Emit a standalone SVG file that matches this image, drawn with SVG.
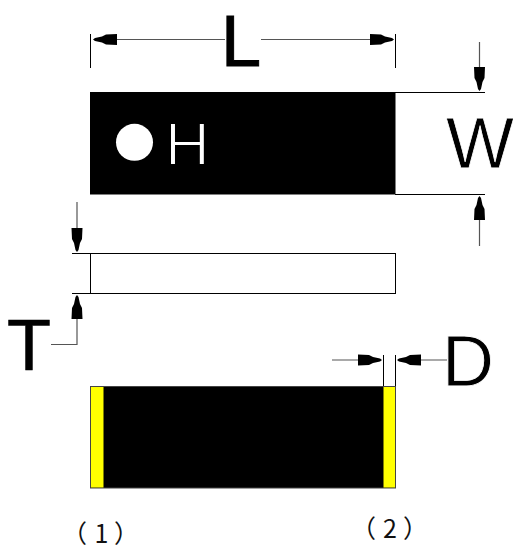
<svg xmlns="http://www.w3.org/2000/svg" width="513" height="546" viewBox="0 0 513 546">
<style>
.l{fill:none;stroke:#000;stroke-width:1}
.g{fill:none;stroke:#555;stroke-width:1.2}
.a{fill:#000}
.t{font-family:"Liberation Sans",Arial,sans-serif;font-size:72px;fill:#000}
.thin{stroke:#fff;stroke-width:.8}
.n{font-family:"Noto Sans CJK SC","Liberation Sans",sans-serif;font-size:25px;fill:#111}
</style>
<defs>
<polygon id="ah" class="a" points="0,0 2,-1.500 9,-3 13,-5 24,-5.500 24,5.500 13,5 9,3 2,1.500"/>
</defs>
<rect width="513" height="546" fill="#fff"/>
<g id="top-view">
<rect x="90" y="92" width="305.500" height="102.500" fill="#000"/>
<circle cx="134.500" cy="142.300" r="18.500" fill="#fff"/>
<text x="165" y="164.500" font-family="Liberation Sans,sans-serif" font-size="62" fill="#fff" stroke="#000" stroke-width="1.800">H</text>
</g>
<g id="side-view">
<rect x="90.500" y="253.500" width="305" height="40" fill="#fff" stroke="#000"/>
</g>
<g id="front-view">
<rect x="90.500" y="386.500" width="305" height="101.500" fill="#000" stroke="#444"/>
<rect x="91" y="387" width="12.500" height="100.500" fill="#ff0"/>
<rect x="383.500" y="387" width="11.500" height="100.500" fill="#ff0"/>
</g>
<g id="connectors">
<path class="l" d="M90.500 34V68M395.500 34V68M395 92.500H485M395 194.500H485M72 253.500H90M72 293.500H90M383.500 355V386M395.500 355V386"/>
<path class="g" d="M116 39.500H225M261 39.500H371M479.500 42V68M479.500 220V246M77 202V228M77 319V344.500H51M332 360H358M421 360H447"/>
<use href="#ah" transform="translate(93,39.500)"/>
<use href="#ah" transform="translate(394,39.500) rotate(180)"/>
<use href="#ah" transform="translate(479.500,91) rotate(-90)"/>
<use href="#ah" transform="translate(479.500,196) rotate(90)"/>
<use href="#ah" transform="translate(77,252) rotate(-90)"/>
<use href="#ah" transform="translate(77,295) rotate(90)"/>
<use href="#ah" transform="translate(382,360) rotate(180)"/>
<use href="#ah" transform="translate(397,360)"/>
</g>
<g id="labels">
<text class="t" x="221" y="66" stroke="#000" stroke-width="1">L</text>
<text class="t thin" x="446" y="168">W</text>
<text class="t" x="7" y="370" stroke="#000" stroke-width=".6">T</text>
<text class="t thin" x="442" y="386">D</text>
<text class="n" x="62 94.500 114" y="543">（1）</text>
<text class="n" x="351 383 403" y="538">（2）</text>
</g>
</svg>
